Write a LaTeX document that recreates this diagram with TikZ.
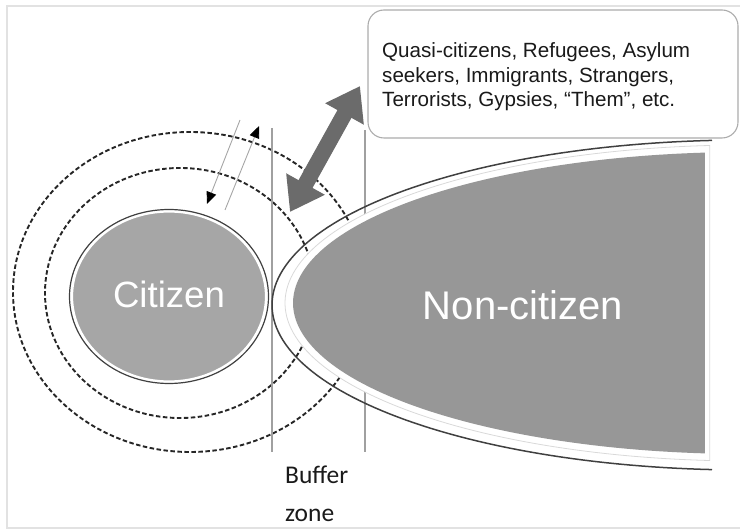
\documentclass[tikz,border=0pt]{standalone}
\usepackage{fontspec}
\setmainfont{Liberation Sans}
\newfontfamily\carlito{Carlito}
\usetikzlibrary{shapes.geometric,arrows.meta}
\definecolor{citfill}{HTML}{A6A6A6}
\definecolor{noncit}{HTML}{979797}
\definecolor{bigarrowc}{HTML}{6B6B6B}
\definecolor{framec}{HTML}{E2E2E2}
\definecolor{buflinec}{HTML}{A0A0A0}
\definecolor{darkline}{HTML}{404040}
\definecolor{textc}{HTML}{1A1A1A}
\begin{document}
\begin{tikzpicture}[x=1pt,y=-1pt,
  dashring/.style={draw=black!85, line width=1.9pt, dash pattern=on 4.5pt off 2.5pt},
  bufferline/.style={draw=buflinec, line width=1.3pt},
  thinarrow/.style={draw=gray!70, line width=0.9pt, -{Triangle[length=12pt,width=10pt,color=black,fill=black]}},
  bigarrow/.style={draw=bigarrowc, line width=16pt, {Triangle[length=32pt,width=42pt]}-{Triangle[length=32pt,width=42pt]}},
  bigword/.style={text=white, inner sep=0}]
\useasboundingbox (0,0) rectangle (740,529);
% frame
\draw[framec, line width=1.5pt] (745,6) -- (7,6) -- (7,528) -- (745,528);
% dashed rings
\draw[dashring] (190,292) ellipse [x radius=177, y radius=160];
\draw[dashring] (180,293) ellipse [x radius=135, y radius=125];
% buffer zone lines
\coordinate (bzLtop) at (272,128);
\coordinate (bzLbot) at (272,452);
\coordinate (bzRtop) at (365,130);
\coordinate (bzRbot) at (365,452);
\draw[bufferline] (bzLtop) -- (bzLbot);
\draw[bufferline] (bzRtop) -- (bzRbot);
% non-citizen outer line
\draw[darkline, line width=1.5pt] plot[domain=94:266, samples=120] ({745+473*cos(\x)},{305+165*sin(\x)});
% white halo with light line
\filldraw[fill=white, draw=gray!30, line width=0.8pt] plot[domain=94.4:265.6, samples=120] ({745+460*cos(\x)},{303+158*sin(\x)}) -- cycle;
% non-citizen fill
\fill[noncit] plot[domain=95.08:264.92, samples=120] ({745+452*cos(\x)},{303+151*sin(\x)}) -- cycle;
\node[bigword, font=\fontsize{40}{44}\selectfont] (noncitizen) at (523,305) {Non-citizen};
% citizen
\node[ellipse, inner sep=0, minimum width=194pt, minimum height=170pt, fill=citfill, draw=white, line width=2.2pt] (citizen) at (169,296.5) {};
\draw[darkline, line width=1.2pt] (citizen.center) ellipse [x radius=99.5, y radius=87];
\node[bigword, font=\fontsize{36.6}{40}\selectfont] (citword) at (169,294) {Citizen};
% thin arrows
\coordinate (ta1s) at (240,120);
\coordinate (ta1e) at (207,204);
\coordinate (ta2s) at (225,210);
\coordinate (ta2e) at (259,126);
\draw[thinarrow] (ta1s) -- (ta1e);
\draw[thinarrow] (ta2s) -- (ta2e);
% big double arrow
\coordinate (bigA) at (290,212);
\coordinate (bigB) at (360,86);
\draw[bigarrow] (bigA) -- (bigB);
% callout
\node[draw=gray!65, fill=white, line width=1.1pt, rounded corners=16pt, minimum width=370pt, minimum height=128pt, inner sep=0] (callout) at (553,74) {};
\node[anchor=base west, align=left, inner sep=0, text=textc, font=\fontsize{20.6}{24.5}\selectfont] (calltext) at (382,107) {Quasi-citizens, Refugees, Asylum\\seekers, Immigrants, Strangers,\\Terrorists, Gypsies, “Them”, etc.};
% buffer zone label
\node[anchor=base west, align=left, inner sep=0, text=textc, font=\carlito\fontsize{25.5}{39}\selectfont] (buffer) at (285,522) {Buffer\\zone};
\end{tikzpicture}
\end{document}
